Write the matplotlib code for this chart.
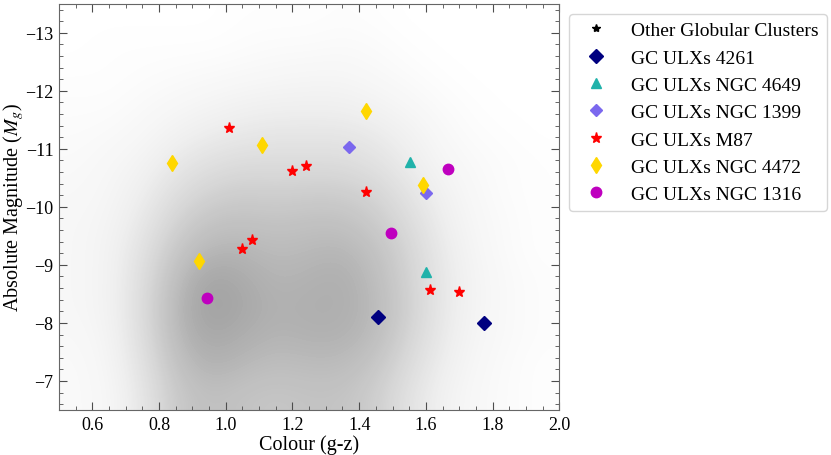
import matplotlib
matplotlib.use('Agg')
import matplotlib.pyplot as plt
from matplotlib.lines import Line2D
import numpy as np

plt.rcParams['font.family'] = ['Liberation Serif', 'DejaVu Serif']
plt.rcParams['mathtext.fontset'] = 'stix'

# background cloud of other GCs, read off the picture as a density grid
# (columns: colour bin centres, rows: magnitude bin centres)
cloud_x = [0.55, 0.65, 0.75, 0.85, 0.95, 1.05, 1.15, 1.25, 1.35, 1.45, 1.55, 1.65, 1.75, 1.85, 1.95]
cloud_y = [-13.25, -12.75, -12.25, -11.75, -11.25, -10.75, -10.25, -9.75, -9.25, -8.75, -8.25, -7.75, -7.25, -6.75]
cloud_density = [
    [0.00, 0.00, 0.00, 0.00, 0.00, 0.01, 0.01, 0.01, 0.02, 0.01, 0.00, 0.00, 0.00, 0.00, 0.00],
    [0.00, 0.01, 0.01, 0.01, 0.01, 0.02, 0.03, 0.03, 0.04, 0.03, 0.01, 0.00, 0.00, 0.00, 0.00],
    [0.01, 0.01, 0.02, 0.03, 0.04, 0.05, 0.06, 0.07, 0.07, 0.05, 0.03, 0.01, 0.00, 0.00, 0.00],
    [0.02, 0.02, 0.04, 0.06, 0.08, 0.10, 0.11, 0.11, 0.11, 0.09, 0.06, 0.03, 0.01, 0.00, 0.00],
    [0.03, 0.04, 0.06, 0.10, 0.13, 0.15, 0.16, 0.16, 0.16, 0.14, 0.10, 0.05, 0.02, 0.01, 0.00],
    [0.04, 0.06, 0.09, 0.15, 0.19, 0.21, 0.21, 0.21, 0.21, 0.18, 0.13, 0.07, 0.04, 0.02, 0.01],
    [0.05, 0.07, 0.12, 0.20, 0.25, 0.27, 0.26, 0.27, 0.27, 0.24, 0.17, 0.10, 0.05, 0.02, 0.01],
    [0.06, 0.08, 0.15, 0.25, 0.31, 0.32, 0.31, 0.32, 0.32, 0.28, 0.21, 0.12, 0.06, 0.03, 0.01],
    [0.06, 0.09, 0.18, 0.30, 0.36, 0.36, 0.34, 0.35, 0.36, 0.32, 0.24, 0.14, 0.07, 0.03, 0.01],
    [0.06, 0.09, 0.20, 0.34, 0.41, 0.39, 0.36, 0.37, 0.38, 0.34, 0.25, 0.15, 0.08, 0.04, 0.02],
    [0.06, 0.09, 0.21, 0.36, 0.42, 0.40, 0.37, 0.38, 0.38, 0.35, 0.26, 0.15, 0.08, 0.04, 0.02],
    [0.05, 0.08, 0.20, 0.35, 0.40, 0.38, 0.36, 0.37, 0.37, 0.34, 0.24, 0.14, 0.07, 0.04, 0.02],
    [0.04, 0.07, 0.18, 0.32, 0.37, 0.35, 0.33, 0.34, 0.34, 0.30, 0.21, 0.12, 0.06, 0.03, 0.01],
    [0.04, 0.06, 0.16, 0.29, 0.33, 0.31, 0.30, 0.31, 0.31, 0.27, 0.18, 0.10, 0.05, 0.03, 0.01],
]

# GC ULX hosts
n4261_x = [1.456, 1.773]
n4261_y = [-8.10, -8.00]
n4649_x = [1.551, 1.601]
n4649_y = [-10.78, -8.88]
n1399_x = [1.370, 1.601]
n1399_y = [-11.03, -10.24]
m87_x = [1.009, 1.200, 1.240, 1.420, 1.050, 1.080, 1.611, 1.700]
m87_y = [-11.36, -10.62, -10.70, -10.25, -9.28, -9.43, -8.56, -8.54]
n4472_x = [0.839, 1.110, 1.420, 1.590, 0.920]
n4472_y = [-10.76, -11.06, -11.65, -10.37, -9.06]
n1316_x = [1.665, 1.494, 0.945]
n1316_y = [-10.65, -9.55, -8.43]

fig = plt.figure(figsize=(8.31, 4.56), dpi=100)
ax = fig.add_axes([0.071, 0.0987, 0.602, 0.891])

dx = cloud_x[1] - cloud_x[0]
dy = abs(cloud_y[1] - cloud_y[0])
ax.imshow(np.array(cloud_density), cmap='Greys', vmin=0, vmax=0.9,
          interpolation='bicubic', aspect='auto', origin='upper',
          extent=[cloud_x[0] - dx / 2, cloud_x[-1] + dx / 2,
                  cloud_y[-1] + dy / 2, cloud_y[0] - dy / 2], zorder=0)

ax.plot(n4261_x, n4261_y, 'D', color='navy', ms=7.6, ls='none', label='GC ULXs 4261')
ax.plot(n4649_x, n4649_y, '^', color='lightseagreen', ms=7, ls='none', label='GC ULXs NGC 4649')
ax.plot(n1399_x, n1399_y, 'D', color='mediumslateblue', ms=6.5, ls='none', label='GC ULXs NGC 1399')
ax.plot(m87_x, m87_y, '*', color='red', ms=8, ls='none', label='GC ULXs M87')
ax.plot(n4472_x, n4472_y, 'd', color='gold', ms=8.5, ls='none', label='GC ULXs NGC 4472')
ax.plot(n1316_x, n1316_y, 'o', color='m', ms=7.5, ls='none', label='GC ULXs NGC 1316')

ax.set_xlim(0.5, 2.0)
ax.set_ylim(-6.5, -13.5)
ax.set_xticks(np.arange(0.6, 2.01, 0.2))
ax.set_xticks(np.arange(0.5, 2.01, 0.05), minor=True)
ax.set_yticks(np.arange(-13, -6.9, 1))
ax.set_yticks(np.arange(-13.4, -6.5, 0.2), minor=True)
ax.tick_params(which='both', direction='in', top=True, right=True, labelsize=13, color='0.3')
ax.tick_params(which='major', length=6, pad=4)
ax.tick_params(which='minor', length=3)
for s in ax.spines.values():
    s.set_color('0.4')
ax.set_xlabel('Colour (g-z)', fontsize=14.5, labelpad=1)
ax.set_ylabel('Absolute Magnitude ($M_g$)', fontsize=14.5)
ax.yaxis.set_label_coords(-0.066, 0.5)

handles, labels = ax.get_legend_handles_labels()
other = Line2D([], [], marker='*', color='black', ls='none', ms=6)
ax.legend([other] + handles, ['Other Globular Clusters'] + labels,
          loc='upper left', bbox_to_anchor=(1.02, 0.975), fontsize=14,
          borderaxespad=0, handletextpad=0.8, labelspacing=0.5)

fig.savefig('out.png', dpi=100)
plt.close(fig)
